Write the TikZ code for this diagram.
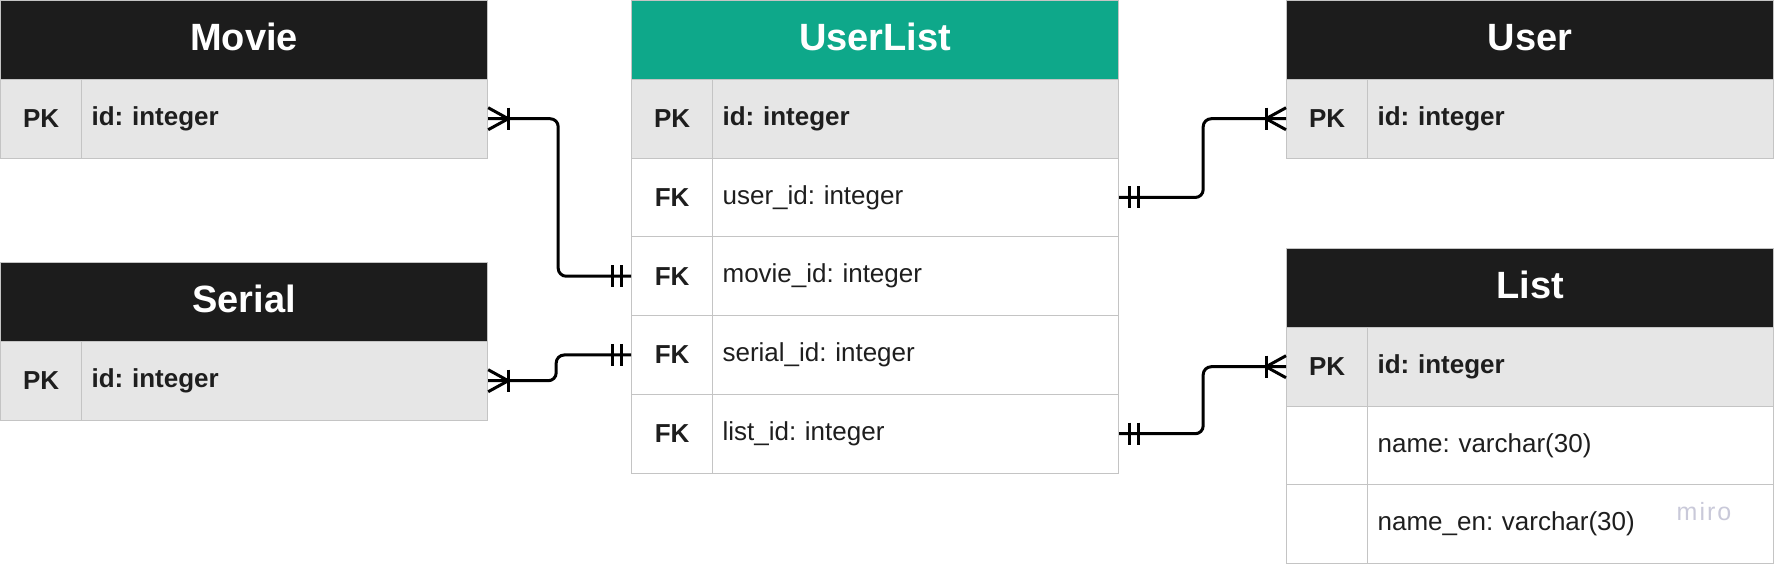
\documentclass[tikz,border=0pt]{standalone}
\usepackage{fontspec}
\setmainfont{Liberation Sans}
\usetikzlibrary{calc}
\definecolor{hdark}{HTML}{1C1C1C}
\definecolor{tealhd}{HTML}{0EA88A}
\definecolor{rowgray}{HTML}{E6E6E6}
\definecolor{bordergray}{HTML}{C4C4C4}
\definecolor{txt}{HTML}{1E1E1E}
\definecolor{mirocol}{HTML}{C9C9D9}
\newcommand{\hfnt}{\fontsize{38}{44}\selectfont\bfseries}
\newcommand{\rfnt}{\fontsize{26}{30}\selectfont}
\frenchspacing
\begin{document}
\begin{tikzpicture}[x=1pt,y=-1pt,
 cell/.style={draw=bordergray, line width=1.2pt, anchor=north west, inner sep=0pt, minimum height=78.75pt, text=txt},
 hdr/.style={cell, minimum width=487pt, fill=hdark, text=white, font=\hfnt, text depth=6pt, text height=27pt},
 keyc/.style={cell, minimum width=81pt, font=\rfnt\bfseries},
 fld/.style={cell, minimum width=406pt, text width=386pt, inner xsep=10pt, align=left, font=\rfnt},
 pkfld/.style={fld, font=\rfnt\bfseries, fill=rowgray},
 pkkey/.style={keyc, fill=rowgray},
 conn/.style={line width=3pt, black, rounded corners=8pt},
 tick/.style={line width=3pt, black},
]
\useasboundingbox (0,0) rectangle (1774,563);
% Movie
\node[hdr] (mh) at (0,0) {Movie};
\node[pkkey] (mk1) at (0,78.75) {PK};
\node[pkfld] (mpk) at (81,78.75) {id: integer};
% Serial
\node[hdr] (sh) at (0,262) {Serial};
\node[pkkey] (sk1) at (0,340.75) {PK};
\node[pkfld] (spk) at (81,340.75) {id: integer};
% UserList
\node[hdr, fill=tealhd] (ulh) at (631,0) {UserList};
\node[pkkey] (ulk1) at (631,78.75) {PK};
\node[pkfld] (ulf1) at (712,78.75) {id: integer};
\node[keyc] (ulk2) at (631,157.5) {FK};
\node[fld] (ulf2) at (712,157.5) {user\_id: integer};
\node[keyc] (ulk3) at (631,236.25) {FK};
\node[fld] (ulf3) at (712,236.25) {movie\_id: integer};
\node[keyc] (ulk4) at (631,315) {FK};
\node[fld] (ulf4) at (712,315) {serial\_id: integer};
\node[keyc] (ulk5) at (631,393.75) {FK};
\node[fld] (ulf5) at (712,393.75) {list\_id: integer};
% User
\node[hdr] (uh) at (1286,0) {User};
\node[pkkey] (uk1) at (1286,78.75) {PK};
\node[pkfld] (upk) at (1367,78.75) {id: integer};
% List
\node[hdr] (lh) at (1286,248) {List};
\node[pkkey] (lk1) at (1286,326.75) {PK};
\node[pkfld] (lpk) at (1367,326.75) {id: integer};
\node[keyc] (lk2) at (1286,405.5) {};
\node[fld] (lf2) at (1367,405.5) {name: varchar(30)};
\node[keyc] (lk3) at (1286,484.25) {};
\node[fld] (lf3) at (1367,484.25) {name\_en: varchar(30)};
% watermark
\node[text=mirocol, font=\fontsize{25}{28}\selectfont\addfontfeature{LetterSpace=8}, inner sep=0pt] (miro) at (1704,512) {miro};
% connectors
\draw[conn] (mpk.east) -- ++(70,0) |- (ulk3.west);
\draw[conn] (spk.east) -- ++(68,0) |- (ulk4.west);
\draw[conn] (ulf2.east) -- ++(84,0) |- (uk1.west);
\draw[conn] (ulf5.east) -- ++(84,0) |- (lk1.west);
% crow's feet (one or many)
\foreach \n/\s in {mpk.east/1, spk.east/1, uk1.west/-1, lk1.west/-1}{
  \draw[tick] ($(\n)+(0,-11)$) -- ($(\n)+(\s*20,0)$) -- ($(\n)+(0,11)$);
  \draw[tick] ($(\n)+(\s*20,-11)$) -- ($(\n)+(\s*20,11)$);
}
% double bars (exactly one)
\foreach \n/\s in {ulk3.west/-1, ulk4.west/-1, ulf2.east/1, ulf5.east/1}{
  \draw[tick] ($(\n)+(\s*10,-11)$) -- ($(\n)+(\s*10,11)$);
  \draw[tick] ($(\n)+(\s*19,-11)$) -- ($(\n)+(\s*19,11)$);
}
\end{tikzpicture}
\end{document}
